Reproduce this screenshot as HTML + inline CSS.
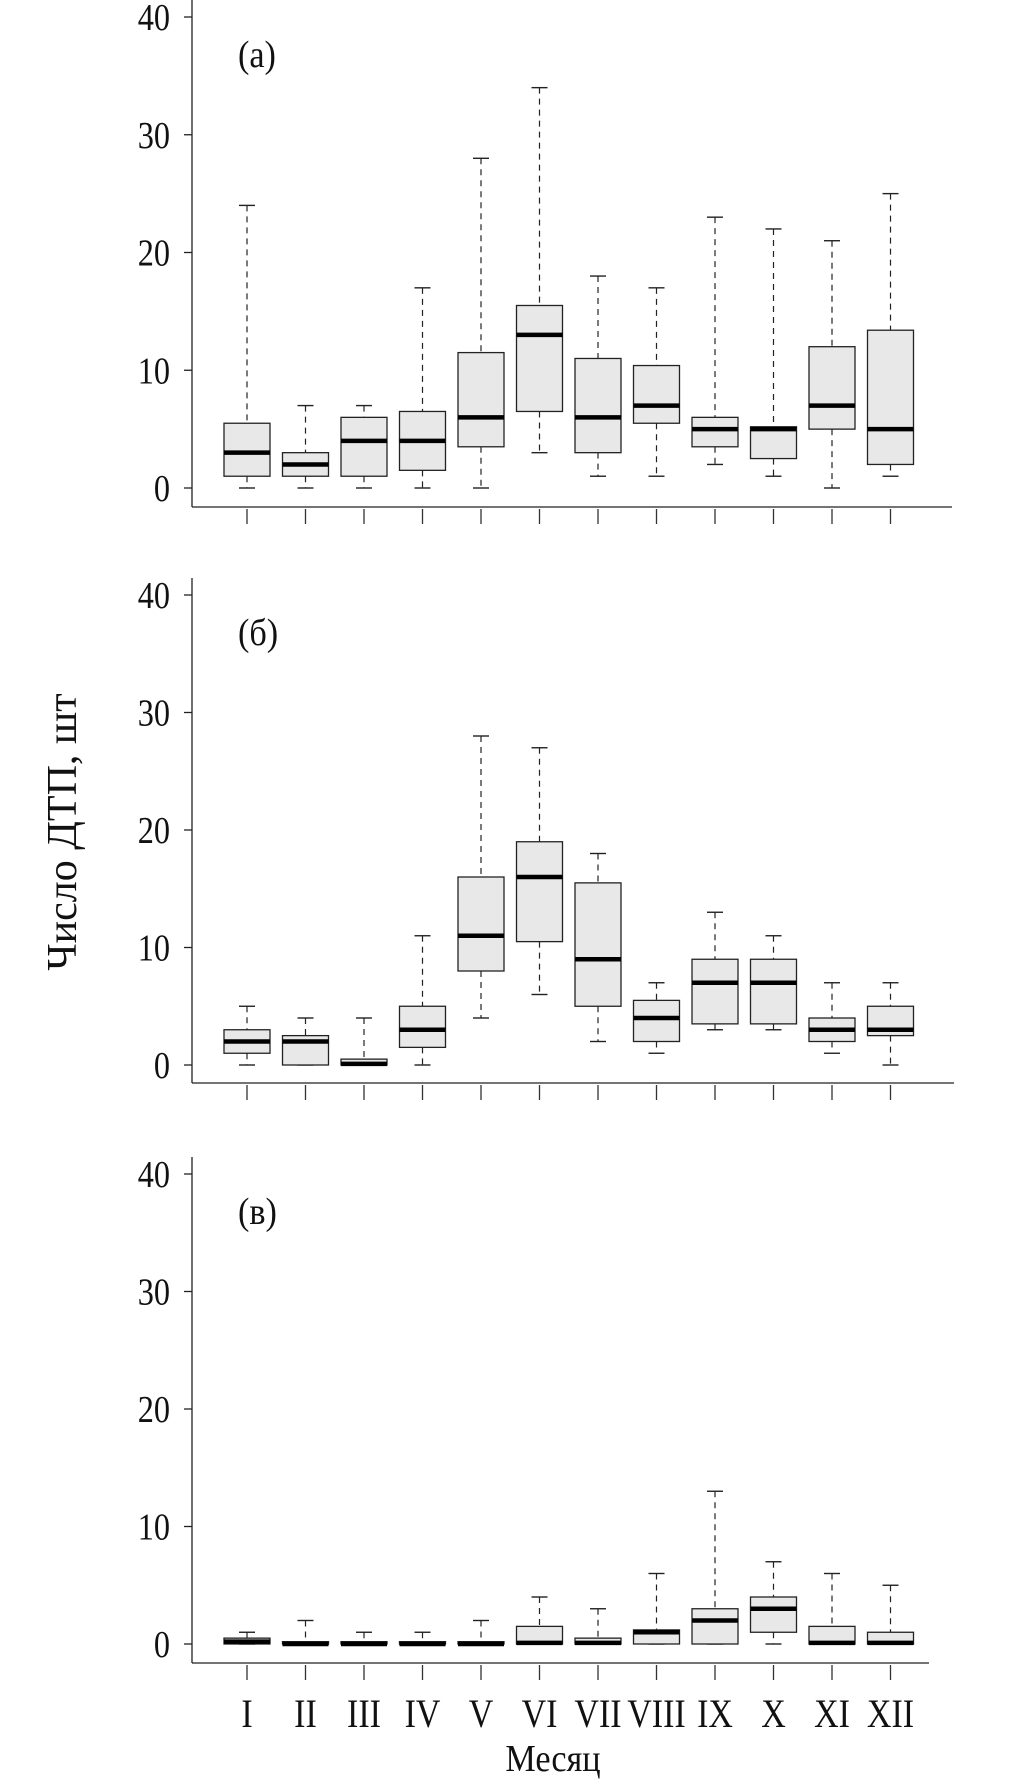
<!DOCTYPE html>
<html><head><meta charset="utf-8"><style>
body{margin:0;background:#fff}
svg{display:block}
text{font-family:"Liberation Serif","DejaVu Serif",serif;fill:#111}
</style></head><body>
<svg id="chart" width="1016" height="1788" viewBox="0 0 1016 1788" xmlns="http://www.w3.org/2000/svg">
<text transform="translate(76,832) rotate(-90)" text-anchor="middle" font-size="42">Число ДТП, шт</text>
<text x="0" y="0" text-anchor="middle" font-size="38" transform="translate(553,1771) scale(0.9,1)">Месяц</text>
</svg>
<script>
const months = ["I","II","III","IV","V","VI","VII","VIII","IX","X","XI","XII"];
const yTicks = [0,10,20,30,40];
const panelLabels = ["(a)","(б)","(в)"];
// each: [low whisker, q1, median, q3, high whisker]
const panelA = [[0,1,3,5.5,24],[0,1,2,3,7],[0,1,4,6,7],[0,1.5,4,6.5,17],[0,3.5,6,11.5,28],[3,6.5,13,15.5,34],[1,3,6,11,18],[1,5.5,7,10.4,17],[2,3.5,5,6,23],[1,2.5,5,5.2,22],[0,5,7,12,21],[1,2,5,13.4,25]];
const panelB = [[0,1,2,3,5],[0,0,2,2.5,4],[0,0,0.1,0.5,4],[0,1.5,3,5,11],[4,8,11,16,28],[6,10.5,16,19,27],[2,5,9,15.5,18],[1,2,4,5.5,7],[3,3.5,7,9,13],[3,3.5,7,9,11],[1,2,3,4,7],[0,2.5,3,5,7]];
const panelC = [[0,0,0.2,0.5,1],[0,0,0,0.2,2],[0,0,0,0.2,1],[0,0,0,0.2,1],[0,0,0,0.2,2],[0,0,0.1,1.5,4],[0,0,0.1,0.5,3],[0,0,1,1.2,6],[0,0,2,3,13],[0,1,3,4,7],[0,0,0.1,1.5,6],[0,0,0.1,1,5]];
const panels = [panelA,panelB,panelC];

const NS="http://www.w3.org/2000/svg";
const svg=document.getElementById('chart');
function mk(tag,attrs,parent){const e=document.createElementNS(NS,tag);for(const k in attrs)e.setAttribute(k,attrs[k]);(parent||svg).appendChild(e);return e;}
const layout=[{y40:17,y0:488,ax:507,xend:952},{y40:595,y0:1065,ax:1083,xend:954},{y40:1174,y0:1644,ax:1663,xend:929}];
const xAxisLeft=192, x0=247, dx=58.5, bw=46;
const xPos=i=>x0+i*dx;
panels.forEach((data,p)=>{
  const L=layout[p];
  const yS=v=>L.y0+(L.y40-L.y0)*v/40;
  const g=mk('g',{});
  
  
  const ya=mk('line',{x1:xAxisLeft,x2:xAxisLeft,y1:L.y40-17,y2:L.ax,stroke:'#222','stroke-width':1.3},g);
  
  
  const xa=mk('line',{x1:xAxisLeft,x2:L.xend,y1:L.ax,y2:L.ax,stroke:'#222','stroke-width':1.3},g);
  
  
  yTicks.forEach(t=>{
    const y=yS(t);
    mk('line',{x1:xAxisLeft-8,x2:xAxisLeft,y1:y,y2:y,stroke:'#222','stroke-width':1.3},g);
    const tx=mk('text',{x:0,y:0,'text-anchor':'end','font-size':38,transform:`translate(${xAxisLeft-22},${y+13}) scale(0.85,1)`},g);
    
    
    tx.textContent=t;
  });
  const lab=mk('text',{x:0,y:0,'font-size':38,transform:`translate(238,${L.y40+50}) scale(0.9,1)`},g);
  
  
  lab.textContent=panelLabels[p];
  data.forEach((d,i)=>{
    const x=xPos(i);
    const [lo,q1,md,q3,hi]=d;
    mk('line',{x1:x,x2:x,y1:L.ax+2,y2:L.ax+17,stroke:'#333','stroke-width':1.3},g);
    const bg=mk('g',{},g);
    
    
    mk('line',{x1:x,x2:x,y1:yS(hi),y2:yS(q3),stroke:'#222','stroke-width':1.2,'stroke-dasharray':'6,5'},bg);
    mk('line',{x1:x,x2:x,y1:yS(q1),y2:yS(lo),stroke:'#222','stroke-width':1.2,'stroke-dasharray':'6,5'},bg);
    mk('line',{x1:x-8,x2:x+8,y1:yS(hi),y2:yS(hi),stroke:'#222','stroke-width':1.4},bg);
    mk('line',{x1:x-8,x2:x+8,y1:yS(lo),y2:yS(lo),stroke:'#222','stroke-width':1.4},bg);
    mk('rect',{x:x-bw/2,y:yS(q3),width:bw,height:Math.max(yS(q1)-yS(q3),1),fill:'#e8e8e8',stroke:'#222','stroke-width':1.3},bg);
    mk('line',{x1:x-bw/2,x2:x+bw/2,y1:yS(md),y2:yS(md),stroke:'#000','stroke-width':4.5},bg);
  });
  if(p===2){
    months.forEach((m,i)=>{
      const t=mk('text',{x:0,y:0,'text-anchor':'middle','font-size':40,transform:`translate(${xPos(i)},1727) scale(0.85,1)`});
      
      
      t.textContent=m;
    });
  }
});
</script>
</body></html>
